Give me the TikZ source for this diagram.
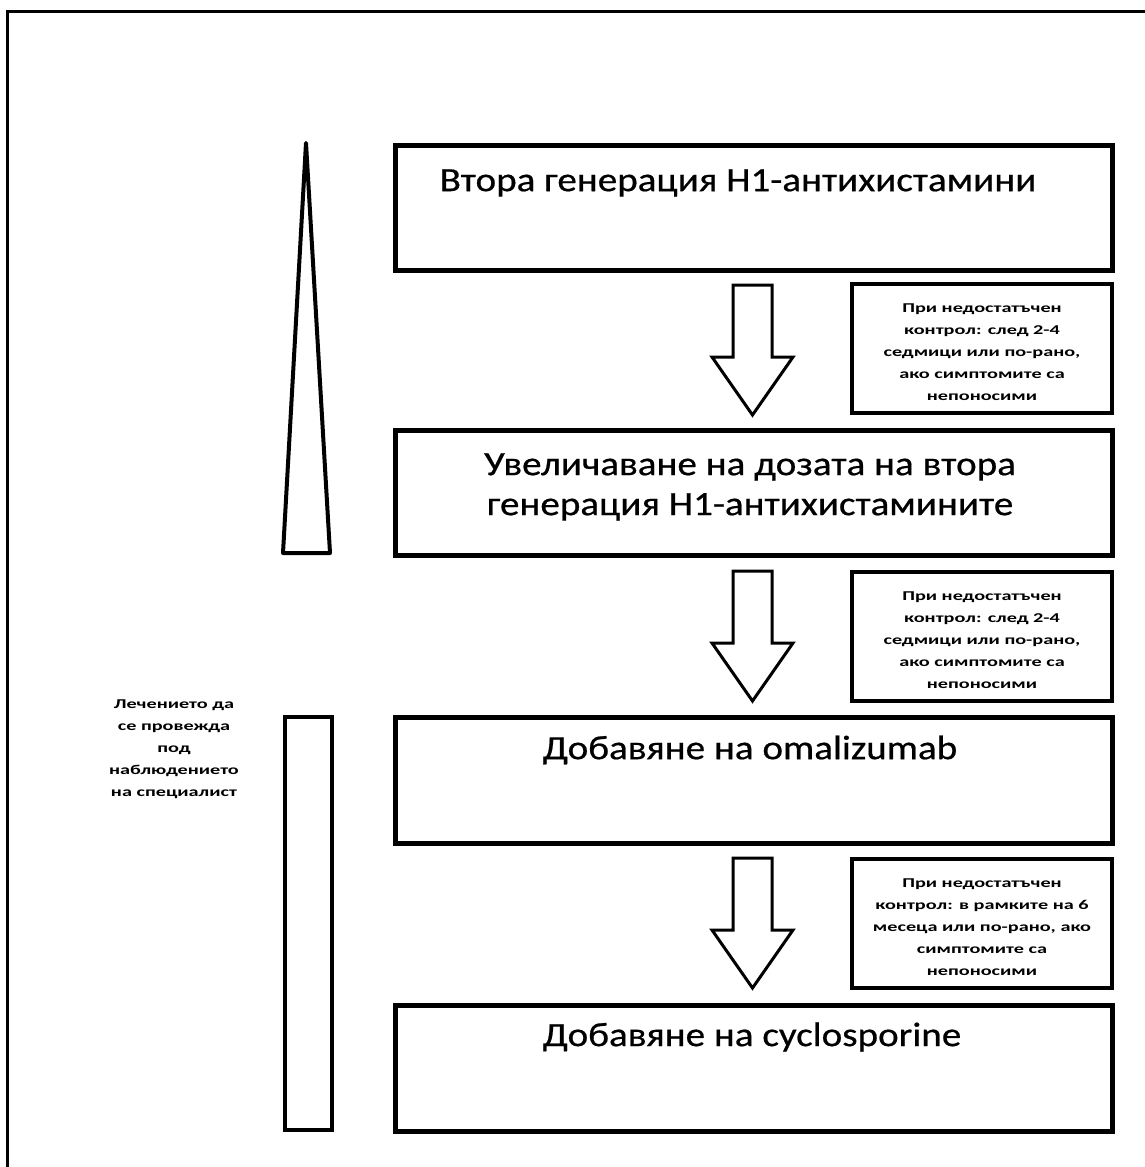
\documentclass[tikz,border=0pt]{standalone}
\usepackage{fontspec}
\setmainfont{Carlito}
\newfontfamily\mainwide[FakeStretch=1.15,FakeBold=0.6]{Carlito}
\newfontfamily\notewide[FakeStretch=1.5,BoldFont={Carlito Bold}]{Carlito}
\begin{document}
\begin{tikzpicture}[x=1pt,y=-1pt,
  mainbox/.style={draw,line width=4.5pt},
  notebox/.style={draw,line width=4pt},
  maintext/.style={font=\mainwide\fontsize{34}{40}\selectfont,align=center,inner sep=0pt},
  notetext/.style={font=\notewide\bfseries\fontsize{13.5}{22}\selectfont,align=center,inner sep=0pt},
  blockarrow/.style={draw,line width=3pt,line join=miter,fill=white},
  spire/.style={draw,line width=4pt,line join=round}]
\useasboundingbox (0,0) rectangle (1145,1167);
% outer frame (partly visible)
\draw[line width=3pt] (7,1167) -- (7,11) -- (1145,11);
% main boxes
\node[mainbox,minimum width=717pt,minimum height=125pt,anchor=north west] (b1) at (393,143) {};
\node[mainbox,minimum width=717pt,minimum height=125pt,anchor=north west] (b2) at (393,428) {};
\node[mainbox,minimum width=717pt,minimum height=126pt,anchor=north west] (b3) at (393,715) {};
\node[mainbox,minimum width=717pt,minimum height=126pt,anchor=north west] (b4) at (393,1003) {};
\node[maintext] (t1) at (738,183) {Втора генерация H1-антихистамини};
\node[maintext] (t2) at (750,487) {Увеличаване на дозата на втора\\генерация H1-антихистамините};
\node[maintext] (t3) at (750,750) {Добавяне на omalizumab};
\node[maintext] (t4) at (752,1037) {Добавяне на cyclosporine};
% note boxes
\node[notebox,minimum width=260pt,minimum height=129pt,anchor=north west] (n1) at (850,282) {};
\node[notebox,minimum width=260pt,minimum height=129pt,anchor=north west] (n2) at (850,570) {};
\node[notebox,minimum width=260pt,minimum height=129pt,anchor=north west] (n3) at (850,857) {};
\node[notetext] (nt1) at ([yshift=-4pt]n1.center) {При недостатъчен\\контрол: след 2-4\\седмици или по-рано,\\ако симптомите са\\непоносими};
\node[notetext] (nt2) at ([yshift=-4pt]n2.center) {При недостатъчен\\контрол: след 2-4\\седмици или по-рано,\\ако симптомите са\\непоносими};
\node[notetext] (nt3) at ([yshift=-4pt]n3.center) {При недостатъчен\\контрол: в рамките на 6\\месеца или по-рано, ако\\симптомите са\\непоносими};
% block arrows
\foreach \top in {285,571,858}{
  \draw[blockarrow] (733,\top) -- (772,\top) -- (772,\top+72) -- (793,\top+72)
    -- (752.5,\top+130) -- (712,\top+72) -- (733,\top+72) -- cycle;
}
% spire triangle and bar
\draw[spire] (306,143) -- (330,553) -- (283,553) -- cycle;
\node[draw,line width=4pt,minimum width=47pt,minimum height=413pt,anchor=north west] (bar) at (283,715) {};
\node[notetext] (side) at (174,749) {Лечението да\\се провежда\\под\\наблюдението\\на специалист};
\end{tikzpicture}
\end{document}
